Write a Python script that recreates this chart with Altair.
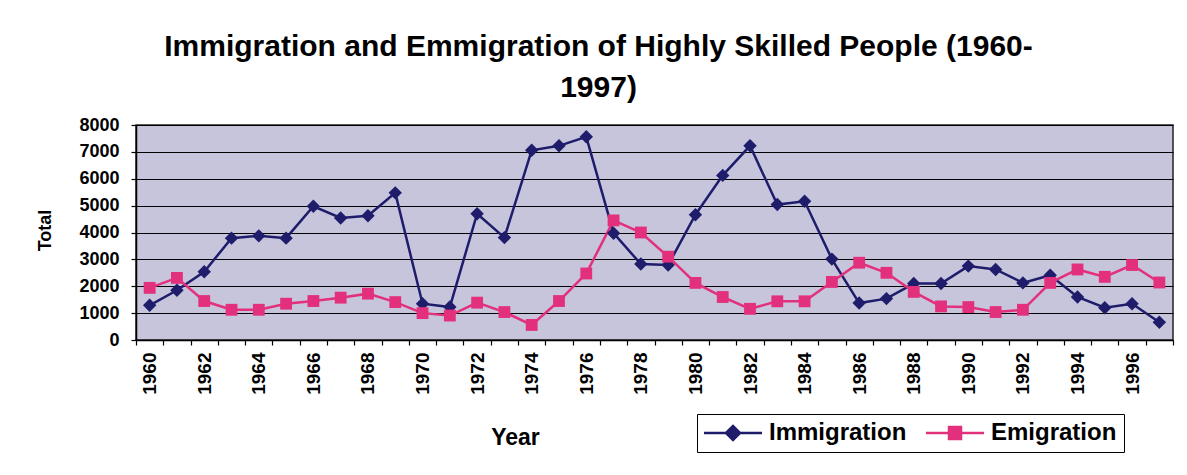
import altair as alt
import pandas as pd

years = list(range(1960, 1998))
immigration = [1290, 1850, 2540, 3790, 3875, 3790, 4975, 4540, 4625, 5475,
               1350, 1225, 4700, 3810, 7060, 7225, 7560, 3975, 2825, 2790,
               4660, 6125, 7225, 5040, 5160, 3010, 1375, 1540, 2100, 2100,
               2750, 2625, 2125, 2410, 1600, 1200, 1350, 660]
emigration = [1940, 2310, 1450, 1125, 1125, 1350, 1450, 1575, 1725, 1410,
              1000, 910, 1390, 1040, 560, 1450, 2475, 4450, 4000, 3100,
              2125, 1600, 1160, 1440, 1440, 2160, 2875, 2500, 1790, 1250,
              1225, 1040, 1125, 2125, 2625, 2350, 2790, 2140]
series_names = ["Immigration", "Emigration"]
series_colors = ["#1f1d6b", "#e3307d"]
marker_shapes = ["diamond", "square"]
marker_sizes = [180, 140]
y_ticks = [0, 1000, 2000, 3000, 4000, 5000, 6000, 7000, 8000]
title_lines = ["Immigration and Emmigration of Highly Skilled People (1960-", "1997)"]

rows = []
for name, vals in zip(series_names, [immigration, emigration]):
    for yr, v in zip(years, vals):
        rows.append({"Year": yr, "Series": name, "Total": v})
df = pd.DataFrame(rows)

FONT = "Liberation Sans"

imm_path = "M-2.9,0L2.9,0M-0.7,0L0,-0.7L0.7,0L0,0.7Z"
emi_path = "M-2.9,0L2.9,0M-0.6,-0.6L0.6,-0.6L0.6,0.6L-0.6,0.6Z"
shape_expr = "datum.value == 'Immigration' ? '%s' : '%s'" % (imm_path, emi_path)
fill_expr = "datum.value == 'Immigration' ? '%s' : '%s'" % (series_colors[0], series_colors[1])

x_enc = alt.X(
    "Year:O",
    scale=alt.Scale(type="band", paddingInner=0, paddingOuter=0),
    axis=alt.Axis(
        title="Year", labelAngle=270,
        labelExpr="datum.value % 2 == 0 ? datum.label : ''",
        labelOverlap=False, tickBand="extent", grid=False,
        labelFont=FONT, labelFontSize=19, labelFontWeight="bold", labelColor="black",
        labelPadding=7, tickSize=5, tickColor="black", tickWidth=1.2,
        domainColor="black", domainWidth=1.5,
        titleFont=FONT, titleFontSize=23, titleFontWeight="bold", titleColor="black",
        titleX=379, titleY=97, titleAlign="center", titleBaseline="middle",
    ),
)
y_enc = alt.Y(
    "Total:Q",
    scale=alt.Scale(domain=[0, 8000], nice=False),
    axis=alt.Axis(
        title="Total", values=y_ticks, format="d", grid=True, gridColor="black", gridWidth=1.2,
        labelFont=FONT, labelFontSize=18, labelFontWeight="bold", labelColor="black",
        labelPadding=12, tickSize=5, tickColor="black", tickWidth=1.2,
        domainColor="black", domainWidth=1.5,
        titleFont=FONT, titleFontSize=18, titleFontWeight="bold", titleColor="black",
        titleX=-82, titleY=105, titleAlign="center",
    ),
)

legend = alt.Legend(
    title=None, orient="none", legendX=561, legendY=289, direction="horizontal",
    labelFont=FONT, labelFontSize=24, labelFontWeight="bold", labelColor="black",
    symbolSize=400, symbolStrokeWidth=2.5, symbolOffset=17, labelOffset=24,
    columnPadding=14, padding=7, strokeColor="black", fillColor="white",
    symbolType={"expr": shape_expr}, symbolFillColor={"expr": fill_expr},
)

lines = alt.Chart(df).mark_line(strokeWidth=2.5).encode(
    x=x_enc, y=y_enc,
    color=alt.Color("Series:N", scale=alt.Scale(domain=series_names, range=series_colors), legend=legend),
)

point_layers = []
for name, col, shp, sz in zip(series_names, series_colors, marker_shapes, marker_sizes):
    point_layers.append(
        alt.Chart(df).transform_filter(alt.datum.Series == name)
        .mark_point(filled=True, opacity=1, shape=shp, size=sz, color=col)
        .encode(x=x_enc, y=y_enc)
    )

chart = alt.layer(lines, *point_layers).properties(
    width=1037, height=215,
    autosize=alt.AutoSizeParams(type="none"),
    padding={"left": 128, "top": 117, "right": 6, "bottom": 127},
    title=alt.TitleParams(text=title_lines, font=FONT, fontSize=30, fontWeight="bold",
                          color="black", anchor="middle", dx=-56, offset=13, lineHeight=41),
    background="white",
).configure_view(fill="#c6c5db", stroke="#222222", strokeWidth=1.5)

chart.save("out.html", embed_options={"renderer": "svg", "actions": False})
